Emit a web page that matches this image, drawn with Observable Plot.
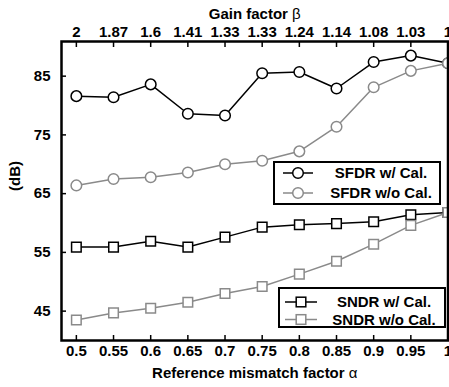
<!DOCTYPE html>
<html>
<head>
<meta charset="utf-8">
<script src="https://cdn.jsdelivr.net/npm/d3@7"></script>
<script src="https://cdn.jsdelivr.net/npm/@observablehq/plot@0.6"></script>
<style>
  body { margin: 0; background: #fff; }
  #chart svg { display: block; }
</style>
</head>
<body>
<div id="chart"></div>
<script>
// Reference mismatch factor α (bottom axis) and corresponding gain factor β (top axis)
const alpha = [0.5, 0.55, 0.6, 0.65, 0.7, 0.75, 0.8, 0.85, 0.9, 0.95, 1];
const beta = ["2", "1.87", "1.6", "1.41", "1.33", "1.33", "1.24", "1.14", "1.08", "1.03", "1"];

// Measured performance in dB
const sfdrCal   = [81.6, 81.4, 83.6, 78.6, 78.3, 85.5, 85.7, 82.9, 87.4, 88.5, 87.2];
const sfdrNoCal = [66.4, 67.5, 67.8, 68.6, 70.0, 70.6, 72.2, 76.4, 83.1, 85.9, 87.2];
const sndrCal   = [55.9, 55.9, 56.9, 55.9, 57.6, 59.3, 59.7, 59.9, 60.2, 61.4, 61.8];
const sndrNoCal = [43.5, 44.7, 45.5, 46.5, 48.0, 49.2, 51.3, 53.5, 56.4, 59.6, 61.8];

const yTicks = [45, 55, 65, 75, 85];

const seriesNames = ["SFDR w/ Cal.", "SFDR w/o Cal.", "SNDR w/ Cal.", "SNDR w/o Cal."];
const seriesValues = [sfdrCal, sfdrNoCal, sndrCal, sndrNoCal];
const seriesColor = ["#000", "#8a8a8a", "#000", "#8a8a8a"];
const seriesSymbol = ["circle", "circle", "square", "square"];

const rows = seriesNames.flatMap((name, s) =>
  alpha.map((a, i) => ({series: name, alpha: a, value: seriesValues[s][i]}))
);

const betaOf = new Map(alpha.map((a, i) => [Math.round(a * 100), beta[i]]));
const font = "'Liberation Sans', Arial, Helvetica, sans-serif";

const seriesMarks = seriesNames.flatMap((name, s) => {
  const data = rows.filter(d => d.series === name);
  return [
    Plot.line(data, {x: "alpha", y: "value", stroke: seriesColor[s], strokeWidth: 1.5}),
    Plot.dot(data, {
      x: "alpha", y: "value", symbol: () => seriesSymbol[s],
      r: seriesSymbol[s] === "circle" ? 5.3 : 5.4,
      stroke: seriesColor[s], strokeWidth: 1.5, fill: "#fff"
    })
  ];
});

const chart = Plot.plot({
  width: 449,
  height: 387,
  marginTop: 41,
  marginBottom: 47,
  marginLeft: 61,
  marginRight: 1.5,
  style: {fontFamily: font, fontSize: "15px", fontWeight: "bold", color: "#000", background: "#fff"},
  x: {domain: [0.48, 1.0]},
  y: {domain: [40, 90.9]},
  symbol: {type: "identity"},
  marks: [
    Plot.axisX(alpha, {anchor: "bottom", tickSize: -5, tickPadding: 10, tickFormat: d => String(d), label: null, strokeWidth: 1.5}),
    Plot.axisX(alpha, {anchor: "top", tickSize: -5, tickPadding: 10, tickFormat: d => betaOf.get(Math.round(d * 100)), label: null, strokeWidth: 1.5}),
    Plot.axisY(yTicks, {anchor: "left", tickSize: -5, tickPadding: 16, label: null, strokeWidth: 1.5}),
    ...seriesMarks,
    Plot.frame({stroke: "#000", strokeWidth: 2.5}),
    Plot.text(["Gain factor β"], {text: d => d, frameAnchor: "top", dy: -33, fontSize: 15, fontWeight: "bold"}),
    Plot.text(["Reference mismatch factor α"], {text: d => d, frameAnchor: "bottom", dy: 37, fontSize: 15, fontWeight: "bold"}),
    Plot.text(["(dB)"], {text: d => d, frameAnchor: "left", dx: -46, rotate: -90, fontSize: 15, fontWeight: "bold"})
  ]
});

document.getElementById("chart").append(chart);

// Greek letters in the axis titles are set in a regular weight
d3.select(chart).selectAll("text").each(function () {
  const t = this.textContent;
  if (/[αβ]$/.test(t) && this.childElementCount === 0) {
    const head = t.slice(0, -1), tail = t.slice(-1);
    const el = d3.select(this);
    el.text(null);
    el.append("tspan").text(head);
    el.append("tspan").attr("font-weight", "normal").text(tail);
  }
});

// Legends: two boxed keys, one for SFDR and one for SNDR
const svg = d3.select(chart);
function legend(box, entries) {
  const g = svg.append("g");
  g.append("rect")
    .attr("x", box.x).attr("y", box.y).attr("width", box.w).attr("height", box.h)
    .attr("fill", "#fff").attr("stroke", "#000").attr("stroke-width", 2);
  entries.forEach((e, i) => {
    const y = box.rows[i];
    g.append("line")
      .attr("x1", box.lineX0).attr("x2", box.lineX1).attr("y1", y).attr("y2", y)
      .attr("stroke", e.color).attr("stroke-width", 1.5);
    const mx = (box.lineX0 + box.lineX1) / 2;
    if (e.symbol === "circle") {
      g.append("circle").attr("cx", mx).attr("cy", y).attr("r", 5.3)
        .attr("fill", "#fff").attr("stroke", e.color).attr("stroke-width", 1.5);
    } else {
      g.append("rect").attr("x", mx - 4.8).attr("y", y - 4.8).attr("width", 9.6).attr("height", 9.6)
        .attr("fill", "#fff").attr("stroke", e.color).attr("stroke-width", 1.5);
    }
    g.append("text")
      .attr("x", box.textX).attr("y", y).attr("dy", "0.36em")
      .attr("text-anchor", "middle")
      .attr("font-family", font).attr("font-size", 15).attr("font-weight", "bold")
      .attr("fill", "#000")
      .text(e.name);
  });
}

legend(
  {x: 274, y: 162, w: 166, h: 42, rows: [173, 193], lineX0: 283, lineX1: 313, textX: 381},
  [0, 1].map(s => ({name: seriesNames[s], color: seriesColor[s], symbol: seriesSymbol[s]}))
);
legend(
  {x: 279, y: 288, w: 166, h: 39, rows: [302, 319.5], lineX0: 285, lineX1: 317, textX: 384},
  [2, 3].map(s => ({name: seriesNames[s], color: seriesColor[s], symbol: seriesSymbol[s]}))
);
</script>
</body>
</html>
